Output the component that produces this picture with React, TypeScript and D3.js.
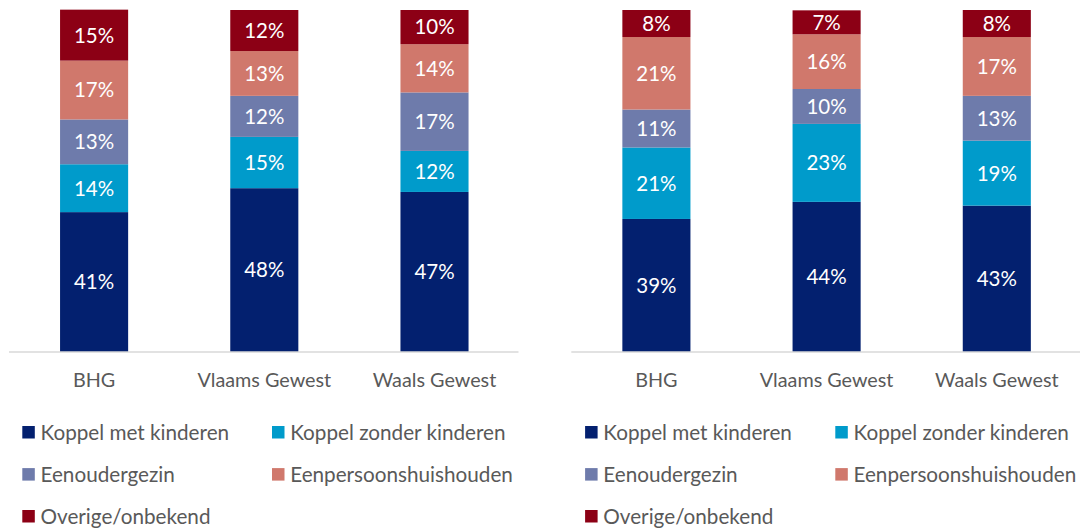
import React from "react";
import * as d3 from "d3";

const categories = ["BHG", "Vlaams Gewest", "Waals Gewest"];
const seriesNames = [
  "Koppel met kinderen",
  "Koppel zonder kinderen",
  "Eenoudergezin",
  "Eenpersoonshuishouden",
  "Overige/onbekend",
];
const seriesColors = ["#03206f", "#009bcb", "#6e7bab", "#d0786c", "#8c0015"];

// left chart values (%), per series, per category
const leftKoppelMet = [40.9, 47.9, 46.8];
const leftKoppelZonder = [14.0, 15.0, 12.0];
const leftEenouder = [13.1, 12.0, 17.1];
const leftEenpersoon = [17.2, 13.1, 14.1];
const leftOverige = [14.9, 12.0, 10.0];

// right chart values (%)
const rightKoppelMet = [38.9, 43.9, 42.8];
const rightKoppelZonder = [20.9, 22.8, 19.0];
const rightEenouder = [11.1, 10.2, 13.1];
const rightEenpersoon = [21.2, 16.0, 17.2];
const rightOverige = [7.9, 7.0, 7.9];

const leftSeries = [leftKoppelMet, leftKoppelZonder, leftEenouder, leftEenpersoon, leftOverige];
const rightSeries = [rightKoppelMet, rightKoppelZonder, rightEenouder, rightEenpersoon, rightOverige];

const FONT = "Lato, 'Open Sans', sans-serif";
const AXIS_Y = 352;

function Panel({ series, x0, x1, lineEnd }: { series: number[][]; x0: number; x1: number; lineEnd: number }) {
  const x = d3.scaleBand().domain(categories).range([x0, x1]).paddingInner(0.6).paddingOuter(0.3);
  const y = d3.scaleLinear().domain([0, 100]).range([AXIS_Y, 10]);
  const rows = categories.map((c, i) => {
    const r: any = { cat: c };
    seriesNames.forEach((s, j) => (r[s] = series[j][i]));
    return r;
  });
  const stacked = d3.stack().keys(seriesNames)(rows);
  return (
    <g>
      {stacked.map((layer, j) => (
        <g key={j}>
          {layer.map((d: any, i: number) => {
            const bx = x(categories[i])!;
            const yt = y(d[1]);
            const yb = y(d[0]);
            return (
              <g key={i}>
                <rect x={bx} y={yt} width={x.bandwidth()} height={yb - yt} fill={seriesColors[j]} />
                <text
                  x={bx + x.bandwidth() / 2}
                  y={(yt + yb) / 2}
                  dy="0.36em"
                  textAnchor="middle"
                  fill="#ffffff"
                  fontSize={20.5}
                  fontFamily={FONT}
                >
                  {Math.round(d[1] - d[0])}%
                </text>
              </g>
            );
          })}
        </g>
      ))}
      <line x1={x0} x2={lineEnd} y1={AXIS_Y} y2={AXIS_Y} stroke="#d9d9d9" strokeWidth={1.5} />
      {categories.map((c) => (
        <text
          key={c}
          x={x(c)! + x.bandwidth() / 2}
          y={380}
          dy="0.36em"
          textAnchor="middle"
          fill="#595959"
          fontSize={19.8}
          fontFamily={FONT}
        >
          {c}
        </text>
      ))}
    </g>
  );
}

function Legend({ x0, x1 }: { x0: number; x1: number }) {
  const rowsY = [432.2, 474.3, 516.2];
  return (
    <g>
      {seriesNames.map((s, i) => {
        const row = Math.floor(i / 2);
        const col = i % 2;
        const lx = col === 0 ? x0 : x1;
        const ly = rowsY[row];
        return (
          <g key={s}>
            <rect x={lx} y={ly - 6.2} width={12.5} height={12.5} fill={seriesColors[i]} />
            <text x={lx + 18.2} y={ly} dy="0.36em" fill="#595959" fontSize={20.7} fontFamily={FONT}>
              {s}
            </text>
          </g>
        );
      })}
    </g>
  );
}

export default function App() {
  return (
    <svg
      width={1080}
      height={528}
      style={{ position: "absolute", left: 0, top: 0, background: "#ffffff" }}
    >
      <Panel series={leftSeries} x0={9} x1={519.6} lineEnd={518.5} />
      <Panel series={rightSeries} x0={571.3} x1={1081.9} lineEnd={1080} />
      <Legend x0={22.3} x1={272} />
      <Legend x0={585.1} x1={835.3} />
    </svg>
  );
}
